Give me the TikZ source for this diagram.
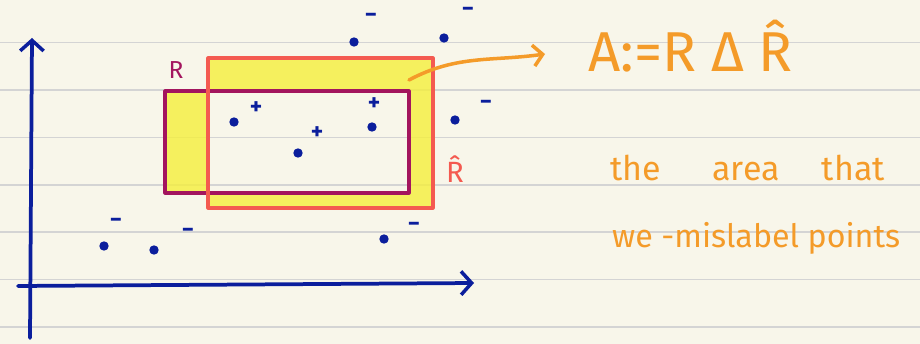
\documentclass[tikz,border=0pt]{standalone}
\usepackage{fontspec}
\setmainfont{Fira Sans}
\usetikzlibrary{arrows.meta}

\definecolor{paper}{HTML}{F8F6EA}
\definecolor{ruleline}{HTML}{D4D4D4}
\definecolor{ink}{HTML}{0B1E9C}
\definecolor{plum}{HTML}{A3155E}
\definecolor{coral}{HTML}{F45A50}
\definecolor{marker}{HTML}{F5EF3C}
\definecolor{pen}{HTML}{F49B29}

\tikzset{
  axis/.style={ink, line width=3.2pt, line cap=round, -{Straight Barb[length=9pt, width=20pt, line width=3pt]}},
  dot/.style={circle, fill=ink, inner sep=0pt, minimum size=8pt},
  sign/.style={ink, inner sep=0pt, font=\fontsize{20}{20}\selectfont\bfseries},
  hand/.style={pen, inner sep=0pt, anchor=base west, font=\fontsize{29}{36}\selectfont},
  box/.style={line width=2.6pt, line join=round},
}

\begin{document}
\begin{tikzpicture}[x=0.03cm, y=-0.03cm]
  \fill[paper] (0,0) rectangle (920,344);
  \useasboundingbox (0,0) rectangle (920,344);
  % ruled paper
  \foreach \y in {42.5,90,137.5,185,232,279.5,327}
    \draw[ruleline, line width=1.1pt] (0,\y) -- (920,\y);

  % R delta R-hat
  \fill[marker, fill opacity=0.8, even odd rule] (165,91) rectangle (409,193) (208,58) rectangle (433,208);
  \draw[box, plum] (165,91) rectangle (409,193);
  \draw[box, coral] (208,58) rectangle (433,208);
  \node[plum, font=\fontsize{21}{21}\selectfont, inner sep=0pt] (rlab) at (176,70) {R};
  \node[coral, font=\fontsize{25}{25}\selectfont, inner sep=0pt, anchor=base west] (rhatlab) at (446,183) {\^{R}};

  % axes
  \coordinate (ybot) at (30,338);
  \coordinate (ytip) at (32,38);
  \coordinate (xleft) at (18,286);
  \coordinate (xtip) at (474,283);
  \draw[axis] (ybot) -- (ytip);
  \draw[axis] (xleft) -- (xtip);

  % data points
  \foreach \x/\y [count=\i] in {354/42, 444/38, 455/120, 372/127, 234/122, 298/153, 104/246, 154/250, 384/239}
    \node[dot] (d\i) at (\x,\y) {};
  \foreach \x/\y [count=\i] in {371/18, 468/12, 486/105, 116/223, 188/233, 414/227}
    \node[sign] (neg\i) at (\x,\y) {−};
  \foreach \x/\y [count=\i] in {374/104, 256/108, 317/133}
    \node[sign] (pos\i) at (\x,\y) {+};

  % notes
  \node[hand, font=\fontsize{48}{52}\selectfont] (sd) at (588,72) {A:=R Δ \^{R}};
  \node[hand] (note1) at (610,181) {the\hspace{44pt}area\hspace{36pt}that};
  \node[hand, font=\fontsize{27.5}{34}\selectfont] (note2) at (612,248) {we -mislabel points};
  \coordinate (from) at (409,80);
  \coordinate (tip) at (545,54);
  \draw[pen, line width=3pt, line cap=round, -{Straight Barb[length=8pt, width=18pt, line width=3pt]}] (from) to[out=28, in=188] (tip);
\end{tikzpicture}
\end{document}
